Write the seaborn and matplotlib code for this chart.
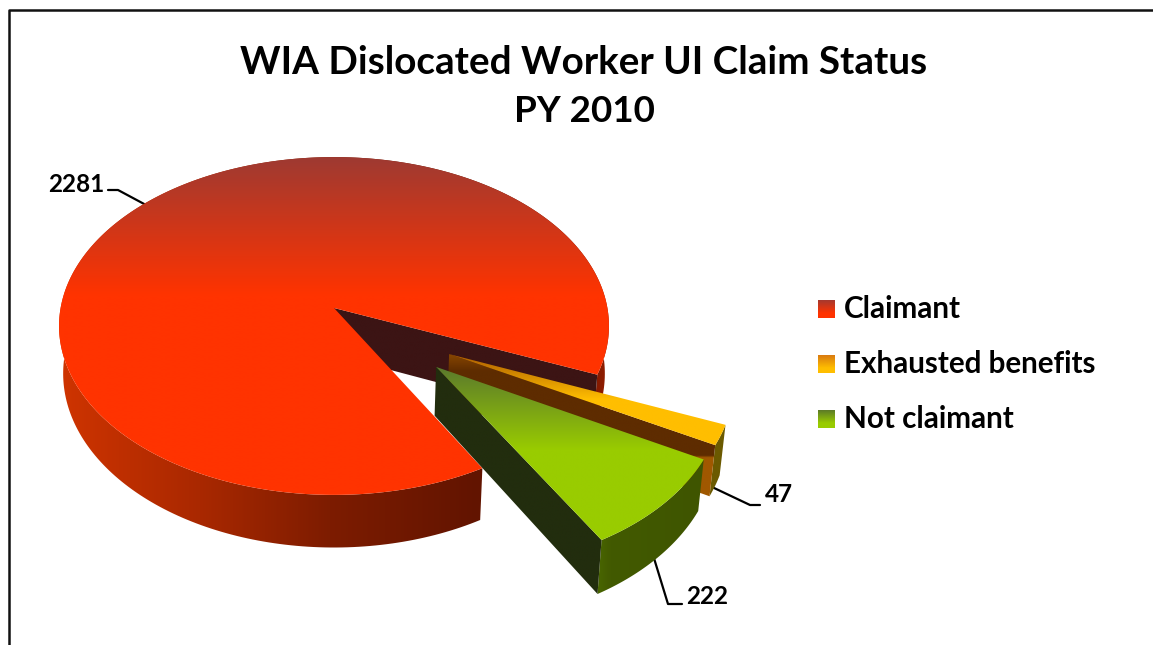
import numpy as np
import matplotlib
matplotlib.use("Agg")
import matplotlib.pyplot as plt
import seaborn as sns
from matplotlib.colors import to_rgb
from matplotlib.patches import Polygon

# ── Data ─────────────────────────────────────────────────────────────────────
TITLE_LINES = ["WIA Dislocated Worker UI Claim Status", "PY 2010"]
CATEGORIES = ["Claimant", "Exhausted benefits", "Not claimant"]
VALUES = [2281, 47, 222]

# ── Look ─────────────────────────────────────────────────────────────────────
START_ANGLE = -60.5
SLICE_SHIFT = [(0.0, 0.0), (0.409, -0.268), (0.36, -0.34)]  # exploded offsets
PALE = ["#9e3a32", "#aa5a00", "#5a782d"]   # top of gradient
FACE = ["#ff3300", "#ffbe00", "#99cc00"]   # bottom of gradient
LEGEND_PALE = ["#a5392f", "#d97a10", "#5c7a28"]
GRAD_Y = [(157, 295), (354, 400), (367, 450)]
CUT_WALL = ["#3c1414", "#5e2c00", "#222d0e"]

# projection of the flat pie on to the picture (pixels)
CX, CY = 334.0, 308.0
SCALE_X, SCALE_Y = 273.4, 167.0
PERSP = 0.1065
DEPTH = 47.0
FLOOR_SHRINK = 0.985


def project(u, v, floor=False):
    u, v = np.asarray(u, float), np.asarray(v, float)
    w = 1 + PERSP * v
    x = SCALE_X * u / w
    y = CY - SCALE_Y * v / w
    if floor:
        x = x * FLOOR_SHRINK
        y = y + DEPTH / w
    return np.column_stack([CX + x, y])


def gradient_fill(ax, pts, stops, axis, zorder):
    """Fill polygon pts with a linear gradient running along x or y (pixels)."""
    lo, hi = pts.min(axis=0) - 1, pts.max(axis=0) + 1
    pos = [s[0] for s in stops]
    cols = np.array([to_rgb(s[1]) for s in stops])
    if axis == "y":
        t = np.linspace(lo[1], hi[1], 600)
    else:
        t = np.linspace(lo[0], hi[0], 600)
    img = np.column_stack([np.interp(t, pos, cols[:, i]) for i in range(3)])
    img = img[:, None, :] if axis == "y" else img[None, :, :]
    im = ax.imshow(img, extent=(lo[0], hi[0], hi[1], lo[1]), aspect="auto",
                   interpolation="bilinear", zorder=zorder)
    clip = Polygon(pts, closed=True, transform=ax.transData, fc="none", ec="none")
    ax.add_patch(clip)
    im.set_clip_path(clip)


sns.set_theme(style="white")
plt.rcParams["font.family"] = ["Lato", "DejaVu Sans"]
plt.rcParams["font.weight"] = "bold"

fig = plt.figure(figsize=(11.53, 6.45), dpi=100)
ax = fig.add_axes([0, 0, 1, 1])
wedges, _ = ax.pie(VALUES, startangle=START_ANGLE, counterclock=False)

# the pie gives the angles, the 3D look is built on top of them
slices = []
for w, shift in zip(wedges, SLICE_SHIFT):
    slices.append((np.linspace(w.theta1, w.theta2, 300), shift))
    w.set_visible(False)

ax.set_aspect("auto")
ax.set_autoscale_on(False)
ax.set_xlim(0, 1153)
ax.set_ylim(645, 0)
ax.axis("off")

# frame, open on the right and at the bottom
ax.plot([8.5, 8.5, 1153], [645, 10, 10], color="#111111", lw=1.8, zorder=1)

OUTER_WALL = [
    [(60, "#cf3400"), (200, "#a92800"), (330, "#7d1c00"), (478, "#621400"),
     (590, "#7a1800"), (610, "#961e00")],
    [(700, "#6b5a00"), (730, "#6b5a00")],
    [(590, "#4c6c00"), (610, "#425a00"), (700, "#3f5500")],
]
CUT_STOPS = [
    [(300, CUT_WALL[0]), (600, CUT_WALL[0])],
    [(354, "#8a4800"), (372, CUT_WALL[1]), (456, CUT_WALL[1]), (458, "#a05800"), (500, "#a05800")],
    [(360, CUT_WALL[2]), (600, CUT_WALL[2])],
]
CUT_AXIS = ["y", "y", "y"]

z = 2
for i, (theta, (sx, sy)) in enumerate(slices):
    rad = np.deg2rad(theta)
    u, v = np.cos(rad) + sx, np.sin(rad) + sy
    top = project(u, v)
    floor = project(u, v, floor=True)
    apex_top = project([sx], [sy])
    apex_floor = project([sx], [sy], floor=True)

    # rim of the slice
    rim = np.vstack([top, floor[::-1]])
    gradient_fill(ax, rim, OUTER_WALL[i], "x", z)

    # the cut face the viewer can see (theta1 end of each wedge)
    cut = np.vstack([apex_top, top[[0]], floor[[0]], apex_floor])
    gradient_fill(ax, cut, CUT_STOPS[i], CUT_AXIS[i], z + 1)

    # top face
    face = np.vstack([apex_top, top])
    y0, y1 = GRAD_Y[i]
    gradient_fill(ax, face, [(y0, PALE[i]), (y1, FACE[i])], "y", z + 2)
    z += 3

# leader lines and value labels
LEADERS = [
    ([108, 118, 146], [190, 190, 205]),
    ([712, 750, 760], [487, 505, 505]),
    ([653, 668, 682], [555, 604, 604]),
]
LABEL_XY = [(48, 184), (765, 495), (686, 596)]
for val, (lx, ly), (tx, ty) in zip(VALUES, LEADERS, LABEL_XY):
    ax.plot(lx, ly, color="black", lw=1.6, zorder=1)
    ax.text(tx, ty, str(val), fontsize=17.5, ha="left", va="center", color="black")

# title
ax.text(584, 62, TITLE_LINES[0], fontsize=27.8, ha="center", va="center", color="black")
ax.text(584, 112, TITLE_LINES[1], fontsize=26.5, ha="center", va="center", color="black")

# legend with gradient swatches
for i, (name, ly) in enumerate(zip(CATEGORIES, [309, 364, 419])):
    sw = np.array([[818, ly - 9], [835, ly - 9], [835, ly + 9], [818, ly + 9]], float)
    gradient_fill(ax, sw, [(ly - 9, LEGEND_PALE[i]), (ly + 4, FACE[i])], "y", 30)
    ax.text(844, ly, name, fontsize=21.3, ha="left", va="center", color="black")

fig.savefig("out.png", dpi=100, facecolor="white")
